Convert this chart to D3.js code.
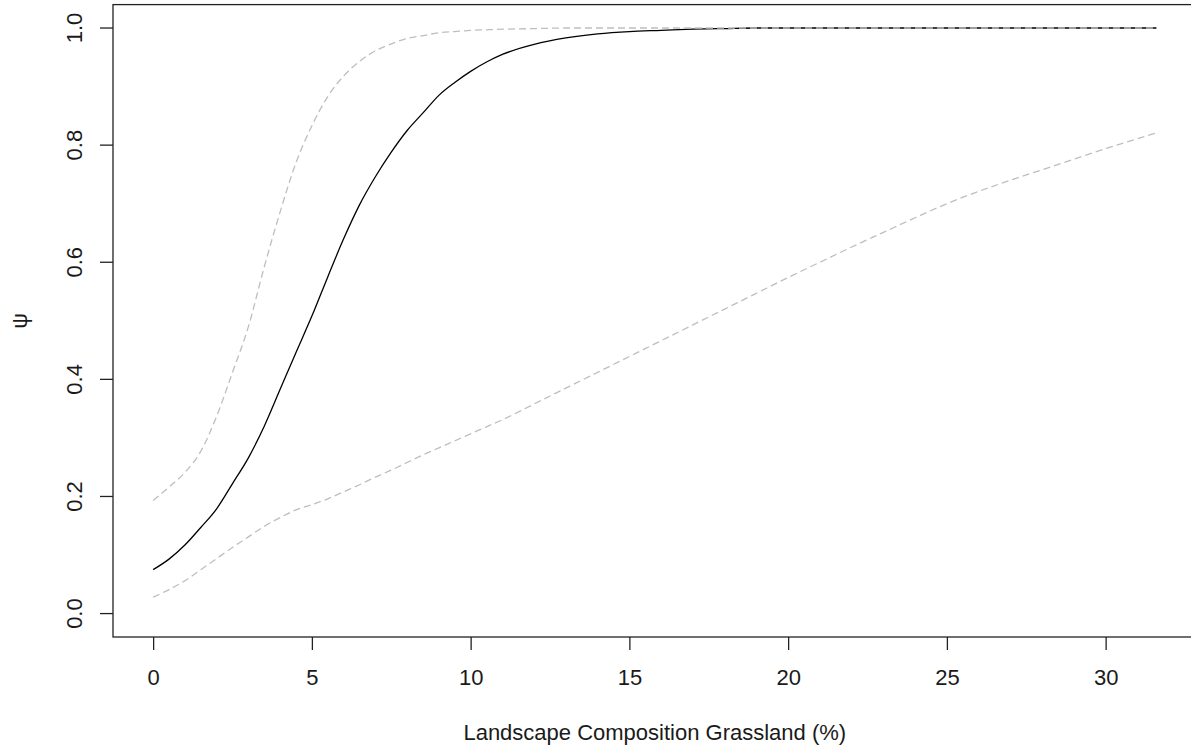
<!DOCTYPE html>
<html>
<head>
<meta charset="utf-8">
<script src="https://cdn.jsdelivr.net/npm/d3@7"></script>
<style>
  html, body { margin: 0; padding: 0; background: #fff; }
  svg { display: block; }
  text { font-family: "Liberation Sans", Arial, sans-serif; fill: #1a1a1a; }
</style>
</head>
<body>
<script>
// Grassland cover (%) at which occupancy was predicted
const grassland = [0, 0.5, 1, 1.5, 2, 2.5, 3, 3.5, 4, 4.5, 5, 5.5, 6, 6.5, 7, 7.5, 8, 8.5, 9, 9.5, 10, 10.5, 11,
  12, 13, 14, 15, 16, 17, 18, 19, 20, 21, 22, 23, 24, 25, 26, 27, 28, 29, 30, 31, 31.6];

// Predicted occupancy (psi)
const psiMean = [0.075, 0.093, 0.117, 0.147, 0.179, 0.222, 0.266, 0.320, 0.383, 0.446, 0.508, 0.575, 0.640, 0.698, 0.746, 0.788, 0.825, 0.855, 0.885, 0.907, 0.926, 0.942, 0.955,
  0.972, 0.983, 0.990, 0.994, 0.996, 0.998, 0.999, 1.0, 1.0, 1.0, 1.0, 1.0, 1.0, 1.0, 1.0, 1.0, 1.0, 1.0, 1.0, 1.0, 1.0];

// Upper confidence limit
const psiUpper = [0.193, 0.216, 0.241, 0.277, 0.337, 0.412, 0.490, 0.592, 0.686, 0.770, 0.833, 0.883, 0.918, 0.943, 0.961, 0.973, 0.982, 0.987, 0.992, 0.994, 0.996, 0.997, 0.998,
  0.999, 1.0, 1.0, 1.0, 1.0, 1.0, 1.0, 1.0, 1.0, 1.0, 1.0, 1.0, 1.0, 1.0, 1.0, 1.0, 1.0, 1.0, 1.0, 1.0, 1.0];

// Lower confidence limit
const psiLower = [0.028, 0.041, 0.056, 0.075, 0.094, 0.113, 0.131, 0.149, 0.164, 0.177, 0.186, 0.196, 0.208, 0.220, 0.233, 0.245, 0.258, 0.271, 0.283, 0.295, 0.307, 0.319, 0.331,
  0.358, 0.385, 0.412, 0.439, 0.466, 0.493, 0.520, 0.547, 0.574, 0.600, 0.626, 0.651, 0.676, 0.700, 0.721, 0.740, 0.758, 0.776, 0.794, 0.811, 0.821];

const xTicks = [0, 5, 10, 15, 20, 25, 30];
const yTicks = [0.0, 0.2, 0.4, 0.6, 0.8, 1.0];
const xTitle = "Landscape Composition Grassland (%)";
const yTitle = "\u03C8";

const W = 1191, H = 750;
const plot = { left: 113, top: 4.6, bottom: 637 };

const svg = d3.select("body").append("svg")
  .attr("width", W).attr("height", H);

// x axis padded 4% beyond the data range on each side
const xMax = d3.max(grassland);
const xPad = 0.04 * xMax;
const pxPerUnit = 31.75;
const x = d3.scaleLinear()
  .domain([-xPad, xMax + xPad])
  .range([plot.left, plot.left + (xMax + 2 * xPad) * pxPerUnit]);

const y = d3.scaleLinear()
  .domain([-0.04, 1.04])
  .range([plot.bottom, plot.top]);

const line = (vals) => d3.line()
  .x((d, i) => x(grassland[i]))
  .y(d => y(d))
  .curve(d3.curveMonotoneX)(vals);

// mean prediction first, confidence limits drawn over it
svg.append("path")
  .attr("d", line(psiMean))
  .attr("fill", "none")
  .attr("stroke", "#000")
  .attr("stroke-width", 1.3);

[psiUpper, psiLower].forEach(vals => {
  svg.append("path")
    .attr("d", line(vals))
    .attr("fill", "none")
    .attr("stroke", "#bebebe")
    .attr("stroke-width", 1.3)
    .attr("stroke-dasharray", "7,4");
});

// plot frame
const [xl, xr] = x.range();
svg.append("rect")
  .attr("x", xl).attr("y", plot.top)
  .attr("width", xr - xl).attr("height", plot.bottom - plot.top)
  .attr("fill", "none")
  .attr("stroke", "#222")
  .attr("stroke-width", 1.3);

// x axis
const xAxis = d3.axisBottom(x).tickValues(xTicks).tickSize(13).tickSizeOuter(0)
  .tickFormat(d3.format("d")).tickPadding(19);
const gx = svg.append("g").attr("transform", `translate(0,${plot.bottom})`).call(xAxis);
gx.select(".domain").remove();
gx.selectAll(".tick line").attr("stroke", "#222").attr("stroke-width", 1.3);
gx.selectAll(".tick text").attr("font-size", 22).attr("fill", "#1a1a1a")
  .attr("font-family", "Liberation Sans, Arial, sans-serif");

// y axis with labels turned parallel to the axis
const gy = svg.append("g").attr("transform", `translate(${plot.left},0)`);
gy.selectAll("line.tick").data(yTicks).join("line")
  .attr("x1", 0).attr("x2", -13)
  .attr("y1", d => y(d)).attr("y2", d => y(d))
  .attr("stroke", "#222").attr("stroke-width", 1.3);
gy.selectAll("text.tick").data(yTicks).join("text")
  .attr("transform", d => `translate(-31,${y(d)}) rotate(-90)`)
  .attr("text-anchor", "middle")
  .attr("font-size", 22)
  .text(d => d3.format(".1f")(d));

// titles
svg.append("text")
  .attr("x", (xl + xr) / 2).attr("y", 740)
  .attr("text-anchor", "middle")
  .attr("font-size", 22)
  .text(xTitle);

svg.append("text")
  .attr("transform", `translate(27,${(plot.top + plot.bottom) / 2}) rotate(-90)`)
  .attr("text-anchor", "middle")
  .attr("font-size", 22)
  .text(yTitle);
</script>
</body>
</html>
